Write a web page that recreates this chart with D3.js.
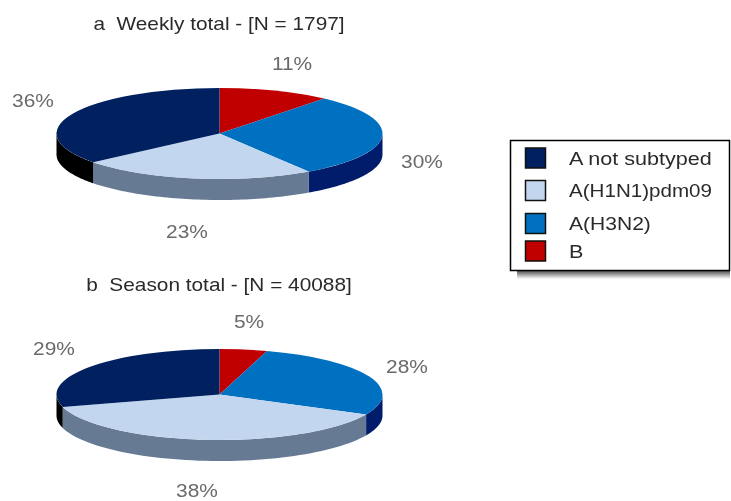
<!DOCTYPE html>
<html><head><meta charset="utf-8">
<script src="https://cdn.jsdelivr.net/npm/d3@7/dist/d3.min.js"></script>
<style>html,body{margin:0;padding:0;background:#fff}svg{display:block;filter:blur(0.6px)}text{font-family:"Liberation Sans",Arial,sans-serif;white-space:pre}</style>
</head><body><svg id="c" width="731" height="501"></svg>
<script>
const categories = ["B","A(H3N2)","A(H1N1)pdm09","A not subtyped"];
const weeklyValues = [11.1,29.7,23.3,35.9];
const seasonValues = [4.7,27.5,38.4,29.4];
const titles = ["a  Weekly total - [N = 1797]","b  Season total - [N = 40088]"];
const legendOrder = ["A not subtyped","A(H1N1)pdm09","A(H3N2)","B"];
const topColors = ["#C00000","#0070C0","#C2D6EF","#002060"];
const sideColors = ["#700000","#001C6B","#667A94","#000000"];

const svg = d3.select("#c");
const color = d3.scaleOrdinal(categories, topColors);
const side = d3.scaleOrdinal(categories, sideColors);
const rx = 163, ry = 45.5, depth = 21;
const pie = d3.pie().sort(null).value(d => d.v);

function label(x, y, txt, size, sx, fill, anchor) {
  return svg.append("text").attr("transform", `translate(${x},${y}) scale(${sx},1)`)
    .attr("text-anchor", anchor).attr("font-size", size).attr("fill", fill).text(txt);
}
function drawPie(values, cx, cy, title, titleX, titleY, labelPos) {
  const data = pie(values.map((v,i) => ({v, c: categories[i]})));
  const g = svg.append("g").attr("transform", `translate(${cx},${cy})`);
  const px = a => rx * Math.sin(a), py = a => -ry * Math.cos(a);
  const area = d3.area().x(a => px(a)).y0(a => py(a)).y1(a => py(a) + depth);
  data.forEach(d => {
    const a0 = Math.max(d.startAngle, Math.PI/2), a1 = Math.min(d.endAngle, 3*Math.PI/2);
    if (a1 <= a0) return;
    const n = 60, angles = d3.range(n + 1).map(i => a0 + (a1 - a0) * i / n);
    g.append("path").attr("d", area(angles)).attr("fill", side(d.data.c));
  });
  const arc = d3.arc().innerRadius(0).outerRadius(rx);
  const top = g.append("g").attr("transform", `scale(1,${ry/rx})`);
  top.selectAll("path").data(data).join("path").attr("d", arc).attr("fill", d => color(d.data.c));
  label(titleX, titleY, title, 18, 1.157, "#2a2a2a", "middle");
  data.forEach((d,i) => label(labelPos[i][0], labelPos[i][1], Math.round(d.data.v) + "%", 18.5, 1.13, "#6a6a6a", "middle"));
}
drawPie(weeklyValues, 219.5, 133.5, titles[0], 219, 30, [[292,70],[422,168],[187,238],[33,107]]);
drawPie(seasonValues, 219.5, 394.5, titles[1], 219, 291, [[249,328],[407,373],[197,497],[54,355]]);

// legend
const grad = svg.append("defs").append("linearGradient").attr("id","shadow").attr("x1",0).attr("y1",0).attr("x2",0).attr("y2",1);
grad.append("stop").attr("offset",0).attr("stop-color","#555");
grad.append("stop").attr("offset",1).attr("stop-color","#fff");
svg.append("rect").attr("x",517).attr("y",271).attr("width",213).attr("height",8).attr("fill","url(#shadow)");
svg.append("rect").attr("x",510.5).attr("y",140.5).attr("width",219).attr("height",130).attr("fill","#fff").attr("stroke","#000").attr("stroke-width",1.5);
const legendY = d3.scaleOrdinal(legendOrder, [158,190.5,223.5,251]);
const legendStretch = d3.scaleOrdinal(legendOrder, [1.2,1.144,1.17,1.2]);
legendOrder.forEach(c => {
  const y = legendY(c);
  svg.append("rect").attr("x",525.5).attr("y",y-10).attr("width",20).attr("height",20).attr("fill",color(c)).attr("stroke","#111").attr("stroke-width",1.5);
  label(569, y+6.5, c, 18, legendStretch(c), "#2a2a2a", "start");
});
</script></body></html>
